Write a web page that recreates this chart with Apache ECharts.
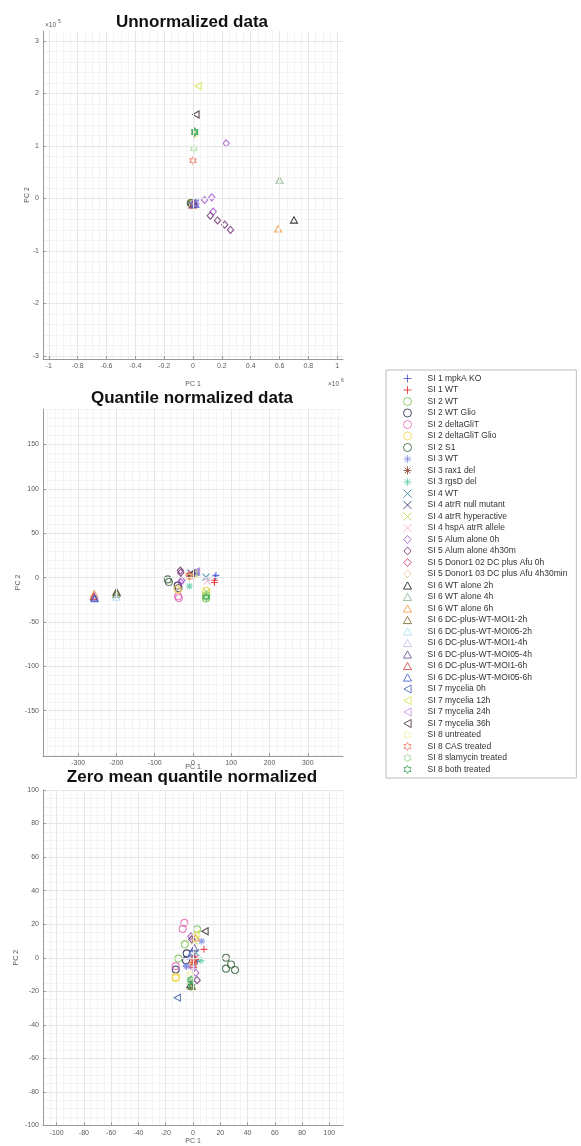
<!DOCTYPE html>
<html><head><meta charset="utf-8">
<script src="https://cdn.jsdelivr.net/npm/echarts@6/dist/echarts.min.js"></script>
<style>html,body{margin:0;padding:0;background:#fff}#c{width:581px;height:1146px}</style>
</head><body><div id="c"></div>
<script>
// ---------------- data ----------------
const seriesNames = [
  'SI 1 mpkA KO','SI 1 WT','SI 2 WT','SI 2 WT Glio','SI 2 deltaGliT','SI 2 deltaGliT Glio','SI 2 S1',
  'SI 3 WT','SI 3 rax1 del','SI 3 rgsD del','SI 4 WT','SI 4 atrR null mutant','SI 4 atrR hyperactive',
  'SI 4 hspA atrR allele','SI 5 Alum alone 0h','SI 5 Alum alone 4h30m','SI 5 Donor1 02 DC plus Afu 0h',
  'SI 5 Donor1 03 DC plus Afu 4h30min','SI 6 WT alone 2h','SI 6 WT alone 4h','SI 6 WT alone 6h',
  'SI 6 DC-plus-WT-MOI1-2h','SI 6 DC-plus-WT-MOI05-2h','SI 6 DC-plus-WT-MOI1-4h','SI 6 DC-plus-WT-MOI05-4h',
  'SI 6 DC-plus-WT-MOI1-6h','SI 6 DC-plus-WT-MOI05-6h','SI 7 mycelia 0h','SI 7 mycelia 12h',
  'SI 7 mycelia 24h','SI 7 mycelia 36h','SI 8 untreated','SI 8 CAS treated','SI 8 slamycin treated','SI 8 both treated'
];
// Unnormalized: PC1 in units of 1e6, PC2 in units of 1e5
const rawPoints = [
  [[0.01,-0.09]], [[0.015,-0.11]], [[-0.01,-0.08],[0.0,-0.1]], [[-0.005,-0.11]], [[-0.012,-0.1]],
  [[0.005,-0.12]], [[-0.015,-0.09],[-0.008,-0.12]], [[0.02,-0.1]], [[0.012,-0.12]], [[0.002,-0.08]],
  [[0.018,-0.09]], [[0.008,-0.1]], [[-0.004,-0.09]], [[0.01,-0.12]],
  [[0.23,1.05],[0.08,-0.03],[0.13,0.02],[0.14,-0.25]], [[0.12,-0.33],[0.17,-0.42],[0.22,-0.5],[0.26,-0.6]],
  [[0.0,-0.11]], [[-0.006,-0.1]],
  [[0.7,-0.41]], [[0.6,0.35]], [[0.59,-0.58]],
  [[0.006,-0.09]], [[-0.01,-0.12]], [[0.014,-0.08]], [[0.004,-0.11]], [[-0.002,-0.12]], [[0.016,-0.11]],
  [[0.0,-0.09]], [[0.035,2.14]], [[0.012,-0.1]], [[0.02,1.6]],
  [[0.011,1.22]], [[0.0,0.72]], [[0.006,0.95]], [[0.012,1.28],[0.012,1.25]]
];
// Quantile normalized: PC1, PC2
const quantPoints = [
  [[60,2.5],[58,0.5]], [[56,-3],[56,-5.5]], [[34,-20],[34,-23.5]], [[-40,-9],[-38,-12]], [[-39,-21],[-37,-23]],
  [[-40,-13],[34,-15]], [[-66,-2],[-63,-5]], [[5,6],[8,5]], [[-10,3],[-8,1]], [[-9,-9.5]],
  [[34,0.5]], [[-5,5]], [[36,-16]], [[37,-4]],
  [[-32,-5],[-29,-3]], [[-33,8],[-32,5.5]], [[-10,2]], [[-38,-15]],
  [[-200,-16]], [[-201,-19]], [[-258,-18]],
  [[-199,-17]], [[-200,-22]], [[-257,-20]], [[-258,-22.5]], [[-259,-21]], [[-257,-23.5]],
  [[7,6.5]], [[2,4]], [[9,7]], [[-5,4]],
  [[-11,1]], [[-9,2.5]], [[36,-19]], [[35,-22]]
];
// Zero mean quantile normalized: PC1, PC2
const zeroPoints = [
  [[-5,-5],[3,-2]], [[8,5],[2,-1]], [[3,17],[-6,8],[-10.7,-0.5]], [[-4.6,2.6],[-5.1,-1.6],[-12.7,-7]],
  [[-6.3,20.8],[-7.6,17.2],[-12.7,-5]], [[-12.7,-12],[-12.5,-11.5]], [[24.2,0],[24.2,-6.5],[27.9,-4],[30.8,-7.3]],
  [[6.4,9.9],[-5,-5]], [[1,-3]], [[5.9,-1.6]], [[2,3]], [[0,1]], [[1,10]], [[-1,-2]],
  [[-1.5,12.8],[2,-9]], [[-1,11],[3,-13.4]], [[1,-1]], [[-0.5,-18.5]],
  [[-2,-16]], [[-1.5,-15]], [[2,12],[0,-2]],
  [[-1,-17]], [[0,4]], [[-2,1]], [[1,6]], [[0,-4]], [[-1,3]],
  [[-11.5,-23.8]], [[2,14]], [[-1,-6]], [[8.8,15.8]],
  [[-2,-10]], [[1,0]], [[-2,-14]], [[-1.5,-13],[-1,-17]]
];
const rawXTicks = [-1,-0.8,-0.6,-0.4,-0.2,0,0.2,0.4,0.6,0.8,1];
const rawYTicks = [-3,-2,-1,0,1,2,3];
const quantXTicks = [-300,-200,-100,0,100,200,300];
const quantYTicks = [-150,-100,-50,0,50,100,150];
const zeroXTicks = [-100,-80,-60,-40,-20,0,20,40,60,80,100];
const zeroYTicks = [-100,-80,-60,-40,-20,0,20,40,60,80,100];
const plotTitles = ['Unnormalized data','Quantile normalized data','Zero mean quantile normalized'];

// ---------------- styles ----------------
const markerColors = [
  '#3f4fd1','#e8202a','#74c24a','#1e2050','#e464b4','#f1d538','#2f5f34',
  '#7f8fe6','#8c3a2c','#5fd0a4','#2c7ea4','#1b2a6a','#b8d640','#f0b0d0',
  '#a050c8','#6a2a6e','#d8265e','#f8c890','#111111','#86ad86','#f0923a',
  '#6e5e1c','#a6daf0','#b6bde8','#5e4a8e','#d83838','#3a58d0',
  '#3f5cb0','#d8e440','#c08ae0','#3a2424','#f6eea6','#f07864','#9ad894','#2fa050'
];
const markerShapes = [
  'plus','plus','circle','circle','circle','circle','circle',
  'star','star','star','cross','cross','cross','cross',
  'diamond','diamond','diamond','diamond',
  'tri','tri','tri','tri','tri','tri','tri','tri','tri',
  'left','left','left','left','hex','hex','hex','hex'
];
const shapePaths = {
  plus: 'path://M5,0L5,10M0,5L10,5',
  cross: 'path://M0,0L10,10M10,0L0,10',
  star: 'path://M5,0L5,10M0,5L10,5M1.5,1.5L8.5,8.5M8.5,1.5L1.5,8.5',
  circle: 'circle',
  diamond: 'path://M4.5,0L9,5L4.5,10L0,5Z',
  tri: 'path://M5,0L10,9L0,9Z',
  left: 'path://M0,5L9,0L9,10Z',
  hex: 'path://M5,0L6.44,2.5L9.33,2.5L7.89,5L9.33,7.5L6.44,7.5L5,10L3.56,7.5L0.67,7.5L2.11,5L0.67,2.5L3.56,2.5Z'
};
const FONT = 'Liberation Sans, Arial, Helvetica, sans-serif';
const grids = [
  {left:43, top:31, width:300, height:328},
  {left:43, top:409, width:300, height:347},
  {left:43, top:790, width:300, height:337}
];
const extents = [
  {x:[-1.04,1.04], y:[-3.06,3.19], xt:rawXTicks, yt:rawYTicks, xm:0.05, ym:0.2, xg:21.5, yg:12.5},
  {x:[-392,392], y:[-201,190], xt:quantXTicks, yt:quantYTicks, xm:20, ym:10, xg:8, yg:21.5},
  {x:[-110,110], y:[-100,100], xt:zeroXTicks, yt:zeroYTicks, xm:5, ym:5, xg:12.5, yg:23.5}
];
function steps(lo, hi, st){
  const out=[]; let k=Math.ceil(lo/st-1e-9);
  while(k*st<=hi+1e-9){ out.push(+(k*st).toFixed(6)); k++; }
  return out;
}
const xAxes=[], yAxes=[];
const axisLabelStyle = {fontSize:7, color:'#5a5a5a', fontFamily:FONT};
const nameStyle = {fontSize:7, color:'#5a5a5a', fontFamily:FONT};
extents.forEach((e,g)=>{
  xAxes.push({type:'value', gridIndex:g, min:e.x[0], max:e.x[1], position:'bottom', z:3,
    name:'PC 1', nameLocation:'middle', nameGap:e.xg, nameMoveOverlap:false, nameTextStyle:nameStyle,
    axisLine:{show:true, onZero:false, lineStyle:{color:'#9a9a9a', width:1}},
    axisTick:{show:true, inside:true, length:3, customValues:e.xt, lineStyle:{color:'#9a9a9a'}},
    axisLabel:{customValues:e.xt, margin:4, ...axisLabelStyle},
    splitLine:{show:true, lineStyle:{color:'#e6e6e6', width:1}}});
  xAxes.push({type:'value', gridIndex:g, min:e.x[0], max:e.x[1], position:'top', z:1,
    axisLine:{show:false}, axisTick:{show:false, customValues:steps(e.x[0],e.x[1],e.xm)}, axisLabel:{show:false},
    splitLine:{show:true, lineStyle:{color:'#f4f4f4', width:1}}});
  yAxes.push({type:'value', gridIndex:g, min:e.y[0], max:e.y[1], position:'left', z:3,
    name:'PC 2', nameLocation:'middle', nameGap:e.yg, nameMoveOverlap:false, nameTextStyle:nameStyle,
    axisLine:{show:true, onZero:false, lineStyle:{color:'#9a9a9a', width:1}},
    axisTick:{show:true, inside:true, length:3, customValues:e.yt, lineStyle:{color:'#9a9a9a'}},
    axisLabel:{customValues:e.yt, margin:4, ...axisLabelStyle},
    splitLine:{show:true, lineStyle:{color:'#e6e6e6', width:1}}});
  yAxes.push({type:'value', gridIndex:g, min:e.y[0], max:e.y[1], position:'right', z:1,
    axisLine:{show:false}, axisTick:{show:false, customValues:steps(e.y[0],e.y[1],e.ym)}, axisLabel:{show:false},
    splitLine:{show:true, lineStyle:{color:'#f4f4f4', width:1}}});
});
const series=[];
[rawPoints, quantPoints, zeroPoints].forEach((pts,g)=>{
  seriesNames.forEach((name,i)=>{
    series.push({type:'scatter', name, xAxisIndex:g*2, yAxisIndex:g*2, data:pts[i],
      symbol:shapePaths[markerShapes[i]], symbolSize:7, symbolKeepAspect:true, silent:true,
      itemStyle:{color:'rgba(0,0,0,0)', borderColor:markerColors[i], borderWidth:1.1},
      emphasis:{disabled:true}, animation:false});
  });
});
const graphics = [];
const titleY = [22.5, 398, 777];
plotTitles.forEach((t,g)=>{
  graphics.push({type:'text', x:192, y:titleY[g], z:10, style:{text:t, font:'bold 17px '+FONT, fill:'#111', align:'center', verticalAlign:'middle', backgroundColor:'transparent'}});
});
graphics.push({type:'text', x:45, y:25, style:{text:'×10', font:'6.5px '+FONT, fill:'#5a5a5a', verticalAlign:'middle'}});
graphics.push({type:'text', x:58, y:22, style:{text:'5', font:'5px '+FONT, fill:'#5a5a5a', verticalAlign:'middle'}});
graphics.push({type:'text', x:328, y:384, style:{text:'×10', font:'6.5px '+FONT, fill:'#5a5a5a', verticalAlign:'middle'}});
graphics.push({type:'text', x:341, y:381, style:{text:'6', font:'5px '+FONT, fill:'#5a5a5a', verticalAlign:'middle'}});

const chart = echarts.init(document.getElementById('c'), null, {renderer:'canvas'});
chart.setOption({
  animation:false,
  backgroundColor:'#fff',
  grid: grids.map(r=>({...r, containLabel:false})),
  xAxis:xAxes, yAxis:yAxes, series,
  graphic: graphics,
  legend:{orient:'vertical', left:386, top:370, padding:[4,9,4,17], itemWidth:8, itemHeight:8, itemGap:2.5,
    borderColor:'#bdbdbd', borderWidth:1, backgroundColor:'#fff', selectedMode:false,
    textStyle:{fontSize:8.5, lineHeight:8, color:'#333', fontFamily:FONT, padding:[0,0,0,11]},
    data: seriesNames.map((n,i)=>({name:n, icon:shapePaths[markerShapes[i]],
      itemStyle:{color:'rgba(0,0,0,0)', borderColor:markerColors[i], borderWidth:1}}))}
});
</script></body></html>
